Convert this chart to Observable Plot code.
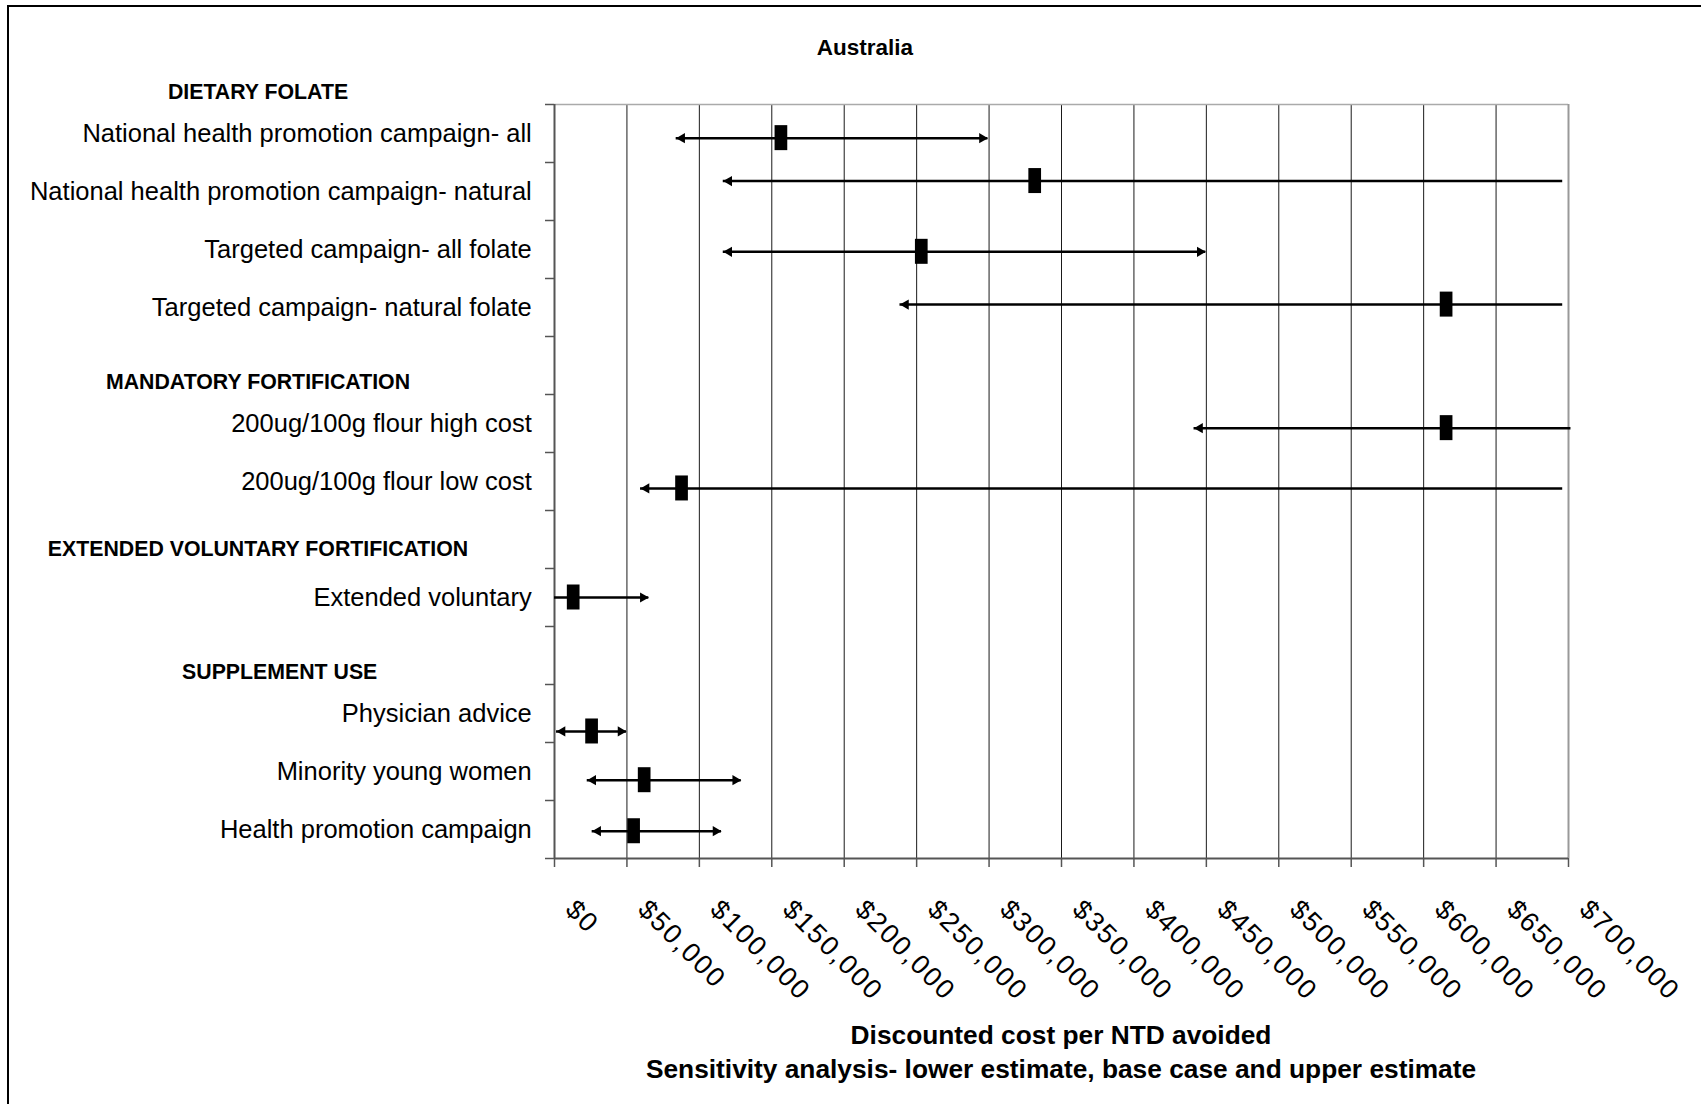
<!DOCTYPE html>
<html>
<head>
<meta charset="utf-8">
<script src="https://cdn.jsdelivr.net/npm/d3@7"></script>
<script src="https://cdn.jsdelivr.net/npm/@observablehq/plot@0.6"></script>
<style>
  html, body { margin: 0; padding: 0; background: #fff; }
  body { font-family: "Liberation Sans", Arial, Helvetica, sans-serif; color: #000; }
  #wrap { position: relative; width: 1701px; height: 1104px; overflow: hidden; background: #fff; }
  #frame { position: absolute; left: 7px; top: 5px; width: 1800px; height: 1300px;
           border-left: 2px solid #000; border-top: 2px solid #000; box-sizing: border-box; }
  #chart { position: absolute; left: 0; top: 0; }
  #title { position: absolute; left: 865px; top: 48px; transform: translate(-50%, -50%);
           font-weight: bold; font-size: 22.5px; white-space: nowrap; }
  #xtitle { position: absolute; left: 1061px; top: 1019px; transform: translateX(-50%);
            font-weight: bold; font-size: 26.3px; line-height: 33.5px; text-align: center; white-space: nowrap; }
</style>
</head>
<body>
<div id="wrap">
  <div id="frame"></div>
  <div id="chart"></div>
  <div id="title">Australia</div>
  <div id="xtitle">Discounted cost per NTD avoided<br>Sensitivity analysis- lower estimate, base case and upper estimate</div>
</div>
<script>
// ---- Data ----
// category rows of the y axis (blank rows hold the group headings)
const categories = [
  "National health promotion campaign- all",
  "National health promotion campaign- natural",
  "Targeted campaign- all folate",
  "Targeted campaign- natural folate",
  "",
  "200ug/100g flour high cost",
  "200ug/100g flour low cost",
  "",
  "Extended voluntary",
  "",
  "Physician advice",
  "Minority young women",
  "Health promotion campaign"
];

// group headings and their vertical position (in row units)
const groups = ["DIETARY FOLATE", "MANDATORY FORTIFICATION", "EXTENDED VOLUNTARY FORTIFICATION", "SUPPLEMENT USE"];
const groupPos = [-0.22, 4.79, 7.67, 9.79];

// interventions plotted: lower estimate, base case, upper estimate (AUD per NTD avoided)
const interventions = [
  "National health promotion campaign- all",
  "National health promotion campaign- natural",
  "Targeted campaign- all folate",
  "Targeted campaign- natural folate",
  "200ug/100g flour high cost",
  "200ug/100g flour low cost",
  "Extended voluntary",
  "Physician advice",
  "Minority young women",
  "Health promotion campaign"
];
const rowPos = [0.58, 1.32, 2.54, 3.45, 5.58, 6.62, 8.50, 10.81, 11.65, 12.53];
const lowerEstimate = [84000, 116500, 116500, 238500, 441500, 59400, 0, 1400, 22600, 26000];
const baseCase      = [156300, 331500, 253200, 615500, 615500, 87700, 12900, 25600, 61900, 54600];
const upperEstimate = [299200, 696000, 449600, 696000, 701700, 696000, 65100, 49700, 128900, 115300];
// estimates that run past the axis range (drawn without arrowhead)
const lowerOffScale = [false, false, false, false, false, false, true, false, false, false];
const upperOffScale = [false, true, false, true, true, true, false, false, false, false];

// x axis tick values
const xTicks = [0, 50000, 100000, 150000, 200000, 250000, 300000, 350000, 400000, 450000, 500000, 550000, 600000, 650000, 700000];

// ---- Build table ----
const rows = interventions.map((name, i) => ({
  name, pos: rowPos[i], lower: lowerEstimate[i], base: baseCase[i], upper: upperEstimate[i],
  loOff: lowerOffScale[i], hiOff: upperOffScale[i]
}));
const catRows = categories.map((label, i) => ({label, pos: i + 0.5})).filter(d => d.label !== "");
const groupRows = groups.map((g, i) => ({g, pos: groupPos[i]}));
const fmt = d3.format("$,");
const font = "'Liberation Sans', Arial, Helvetica, sans-serif";

const chart = Plot.plot({
  width: 1701,
  height: 1010,
  marginLeft: 554,
  marginRight: 133,
  marginTop: 104,
  marginBottom: 152,
  style: {fontFamily: font, background: "transparent", overflow: "visible", color: "#000"},
  x: {domain: [0, 700000], axis: null, label: null},
  y: {domain: [0, 13], reverse: true, axis: null, label: null},
  marks: [
    // vertical gridlines
    Plot.ruleX(xTicks.slice(1, -1), {stroke: "#1a1a1a", strokeWidth: 1}),
    // plot frame: top and right light grey, left and bottom axis darker
    Plot.ruleY([0], {stroke: "#aaa", strokeWidth: 1.5}),
    Plot.ruleX([700000], {stroke: "#999", strokeWidth: 2}),
    Plot.ruleX([0], {stroke: "#555", strokeWidth: 2}),
    Plot.ruleY([13], {stroke: "#555", strokeWidth: 2}),
    // axis ticks
    Plot.axisY({ticks: d3.range(0, 14), tickSize: 9, tickFormat: () => "", label: null, stroke: "#555", strokeWidth: 1.5}),
    Plot.axisX({ticks: xTicks, tickSize: 9, tickFormat: () => "", label: null, stroke: "#555", strokeWidth: 1.5}),
    // x tick labels, rotated
    Plot.text(xTicks, {
      x: d => d, frameAnchor: "bottom", text: d => fmt(d), rotate: 45, textAnchor: "start",
      dx: 9.5, dy: 52.5, fontSize: 27, fill: "#000"
    }),
    // category labels
    Plot.text(catRows, {
      y: "pos", text: "label", frameAnchor: "left", textAnchor: "end", dx: -22.75,
      fontSize: 25.5, fill: "#000"
    }),
    // group headings
    Plot.text(groupRows.filter(d => d.g !== "SUPPLEMENT USE"), {
      y: "pos", text: "g", frameAnchor: "left", textAnchor: "middle", dx: -296.5,
      fontSize: 21.3, fontWeight: "bold", fill: "#000"
    }),
    Plot.text(groupRows.filter(d => d.g === "SUPPLEMENT USE"), {
      y: "pos", text: "g", frameAnchor: "left", textAnchor: "middle", dx: -274.8,
      fontSize: 21.3, fontWeight: "bold", fill: "#000"
    }),
    // range lines
    Plot.ruleY(rows, {y: "pos", x1: "lower", x2: "upper", stroke: "#000", strokeWidth: 2.5}),
    // arrowheads
    Plot.dot(rows.filter(d => !d.hiOff), {
      x: "upper", y: "pos", symbol: "triangle", rotate: 90, r: 3.8, fill: "#000", stroke: null, dx: -5.8
    }),
    Plot.dot(rows.filter(d => !d.loOff), {
      x: "lower", y: "pos", symbol: "triangle", rotate: -90, r: 3.8, fill: "#000", stroke: null, dx: 5.8
    }),
    // base case markers
    Plot.ruleX(rows, {
      x: "base", y1: "pos", y2: "pos", insetTop: -12.5, insetBottom: -12.5,
      stroke: "#000", strokeWidth: 12.7
    })
  ]
});
// the reference's rotated tick labels are set wide: add letter spacing
d3.select(chart).selectAll("text")
  .filter(function() { return /^\$/.test(this.textContent); })
  .attr("letter-spacing", "2px");
document.getElementById("chart").appendChild(chart);
</script>
</body>
</html>
